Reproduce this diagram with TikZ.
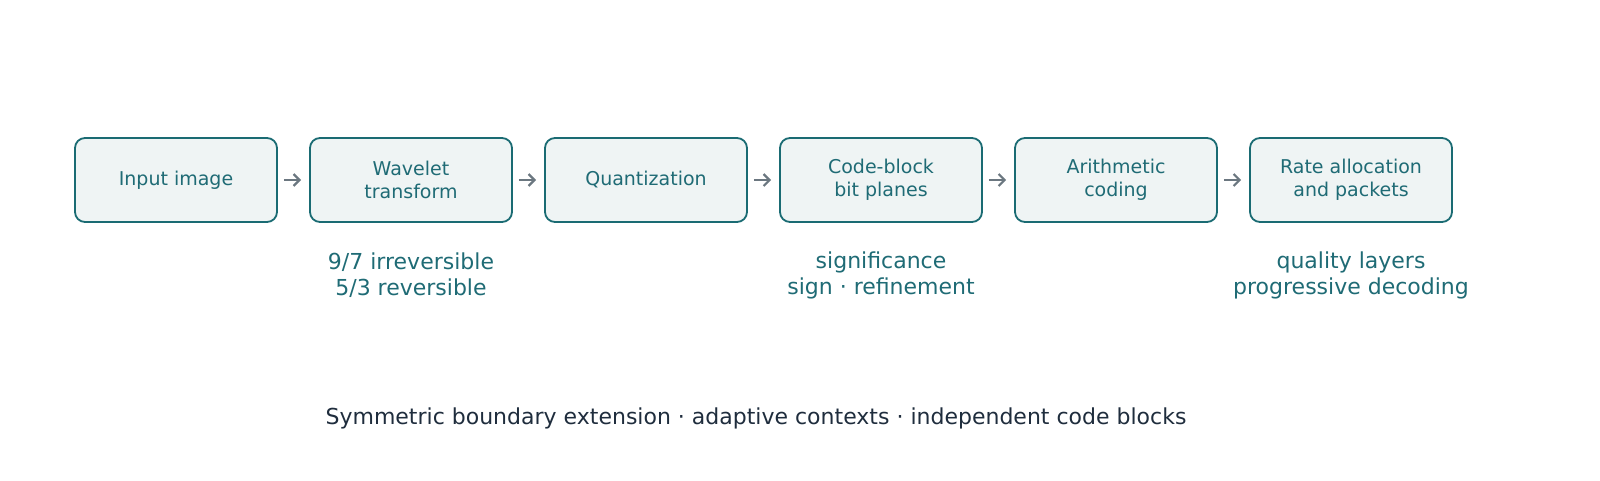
\documentclass[tikz,border=0pt]{standalone}
\usepackage{fontspec}
\setmainfont{DejaVu Sans}
\usetikzlibrary{positioning,arrows.meta}
\definecolor{boxline}{HTML}{1A6B73}
\definecolor{boxfill}{HTML}{EFF4F4}
\definecolor{boxtext}{HTML}{1F6B75}
\definecolor{arrowgray}{HTML}{6B7780}
\definecolor{captiontext}{HTML}{1F2D3D}
\tikzset{
  stagebox/.style={draw=boxline, fill=boxfill, line width=0.9pt, rounded corners=5pt,
    minimum width=101pt, minimum height=42pt, align=center, text=boxtext,
    font=\fontsize{9.5}{11.5}\selectfont, inner sep=0pt},
  notetext/.style={align=center, text=boxtext, font=\fontsize{11}{13}\selectfont},
  flow/.style={-{Straight Barb[length=3pt,width=6pt]}, draw=arrowgray, line width=1.1pt}
}
\begin{document}
\begin{tikzpicture}[x=0.5pt,y=-0.5pt]
  \useasboundingbox (0,0) rectangle (1600,481);
  \node[stagebox] (input) at (176,180) {Input image};
  \node[stagebox] (wavelet) at (411,180) {Wavelet\\transform};
  \node[stagebox] (quant) at (646,180) {Quantization};
  \node[stagebox] (planes) at (881,180) {Code-block\\bit planes};
  \node[stagebox] (arith) at (1116,180) {Arithmetic\\coding};
  \node[stagebox] (rate) at (1351,180) {Rate allocation\\and packets};

  \foreach \a/\b in {input/wavelet,wavelet/quant,quant/planes,planes/arith,arith/rate}
    \draw[flow] ([xshift=3pt]\a.east) -- ([xshift=-4pt]\b.west);

  \node[notetext] (wavenote) at (411,275) {9/7 irreversible\\5/3 reversible};
  \node[notetext] (planenote) at (881,275) {significance\\sign · refinement};
  \node[notetext] (ratenote) at (1351,275) {quality layers\\progressive decoding};

  \node[text=captiontext, font=\fontsize{11}{13}\selectfont] (caption) at (756,418)
    {Symmetric boundary extension · adaptive contexts · independent code blocks};
\end{tikzpicture}
\end{document}
